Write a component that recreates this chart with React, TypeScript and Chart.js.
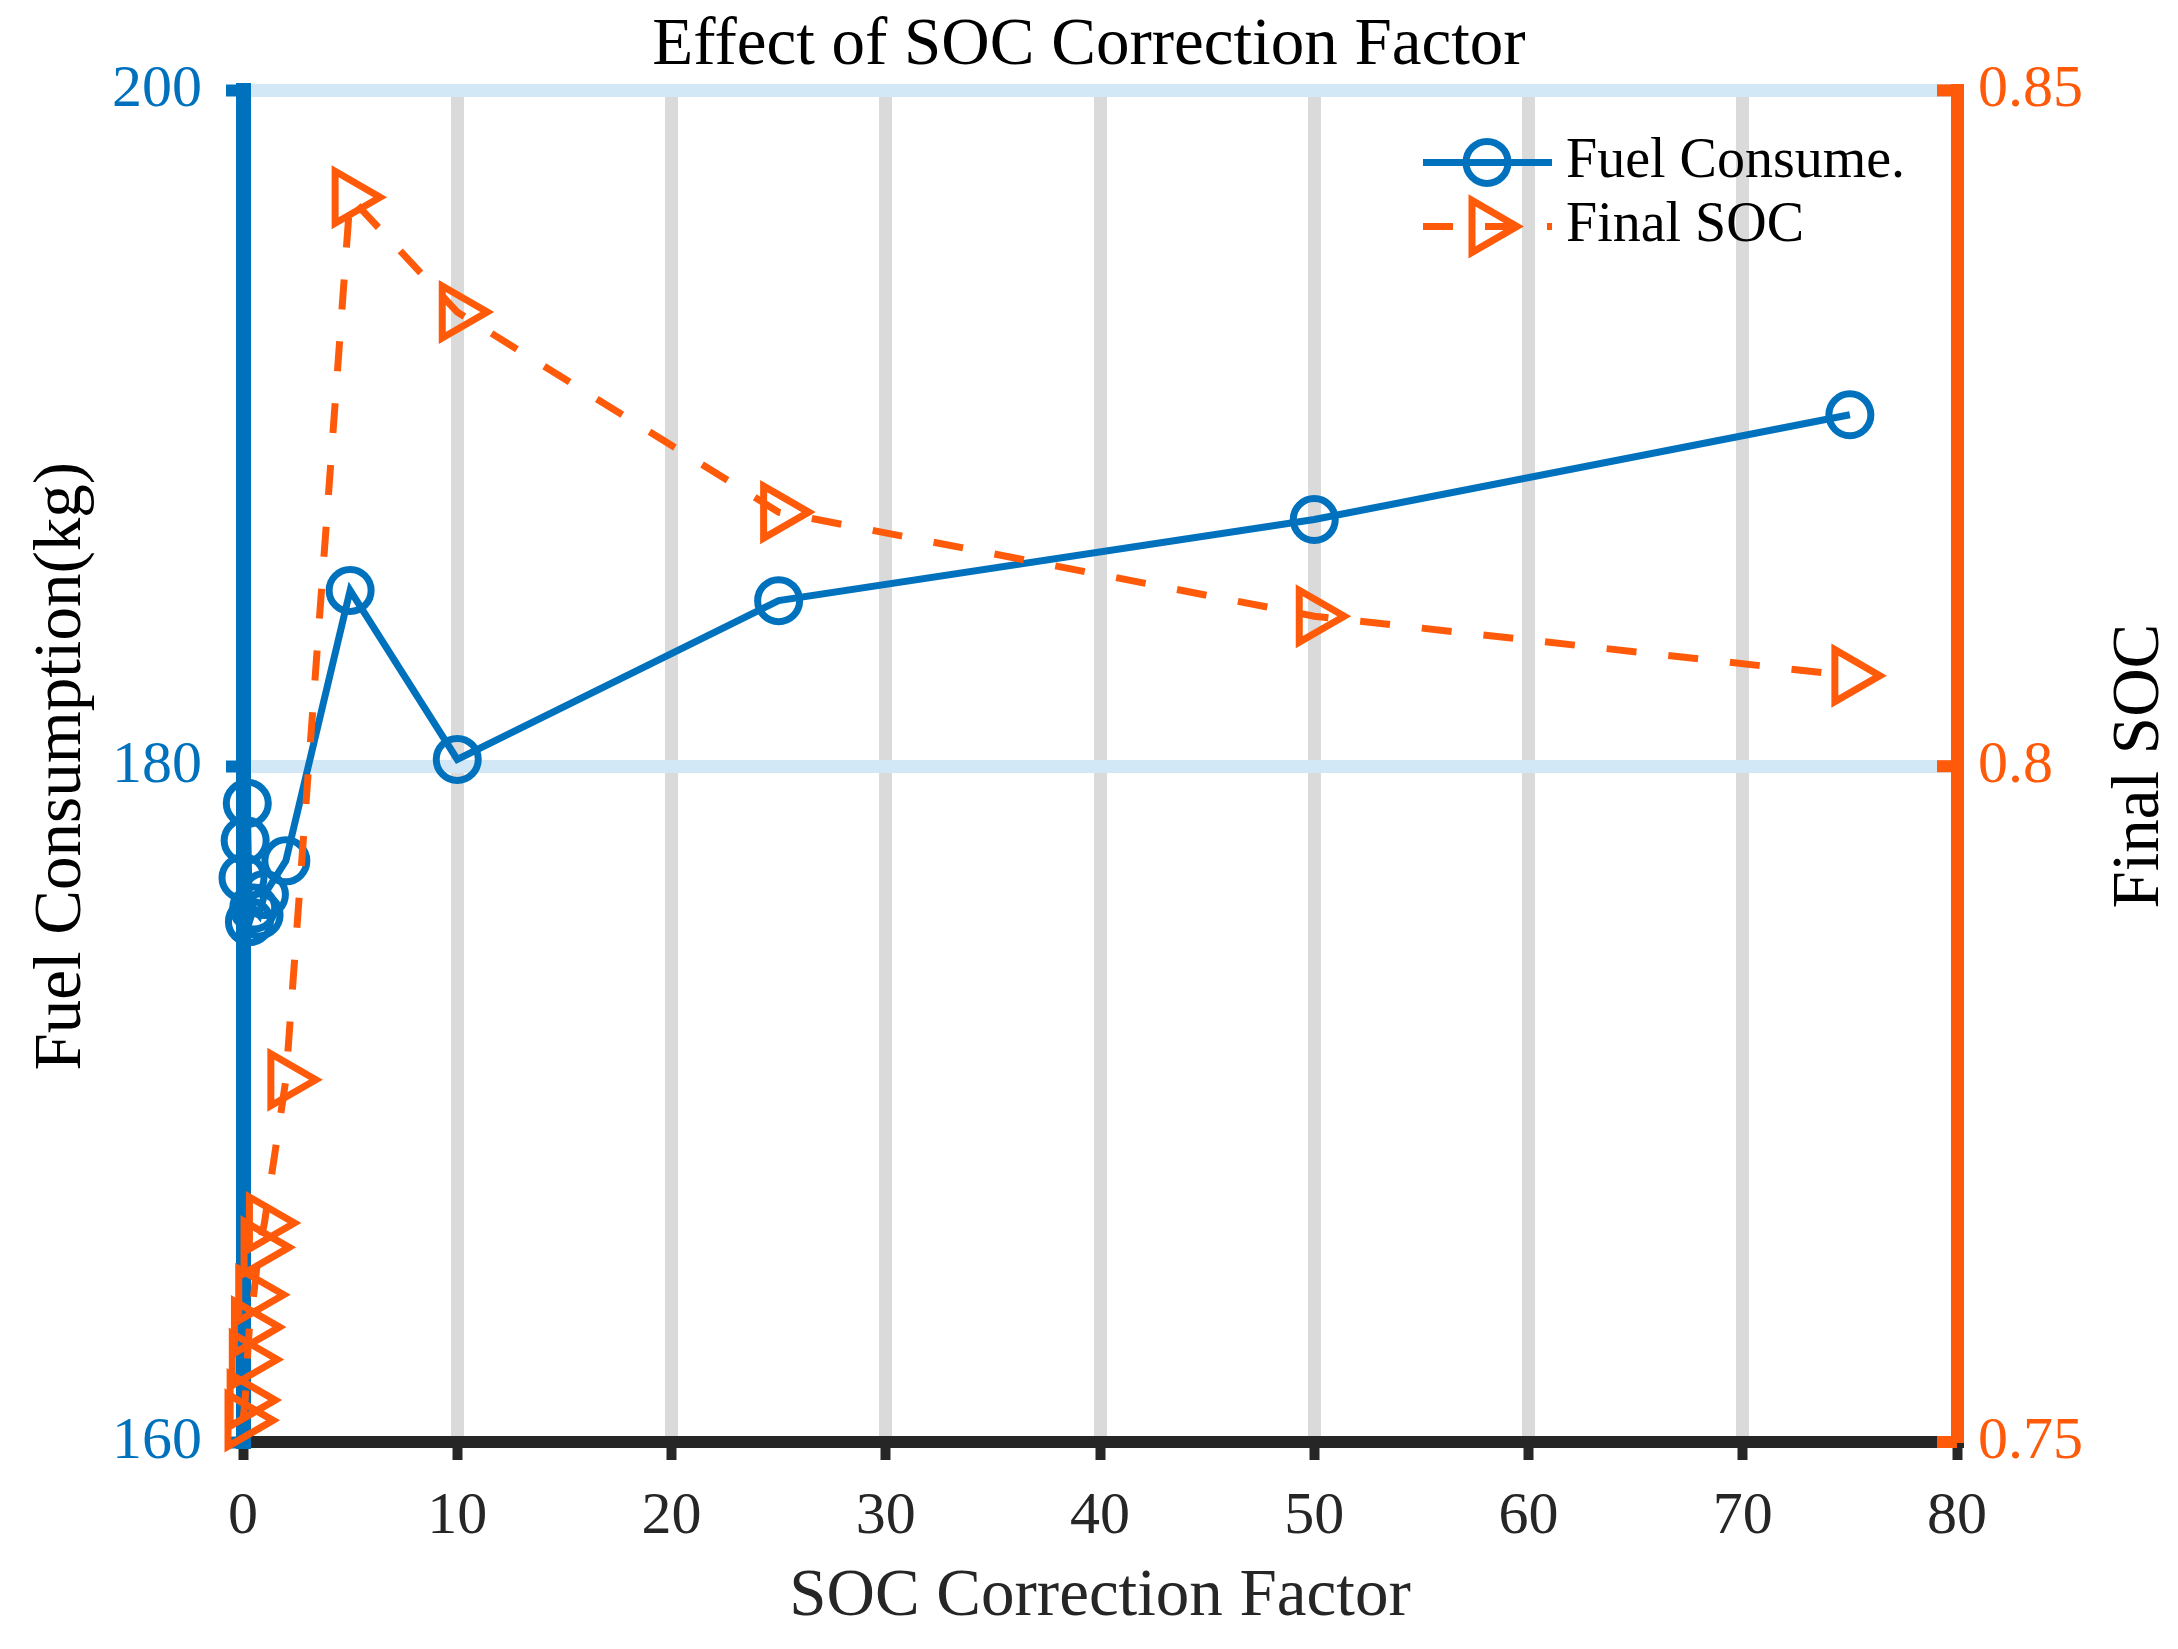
import { useEffect, useRef } from "react";
import { Chart, registerables } from "chart.js";

Chart.register(...registerables);

// SOC correction factor sweep
const factors = [0, 0.1, 0.2, 0.3, 0.5, 0.75, 1, 2, 5, 10, 25, 50, 75];
const fuelKg = [176.7, 177.8, 178.9, 175.4, 175.8, 175.6, 176.2, 177.2, 185.2, 180.2, 184.9, 187.3, 190.4];
const finalSoc = [0.7516, 0.7531, 0.7561, 0.7585, 0.7609, 0.7644, 0.7662, 0.7768, 0.8421, 0.8336, 0.8188, 0.8111, 0.8067];

const xTicks = [0, 10, 20, 30, 40, 50, 60, 70, 80];
const fuelTicks = [160, 180, 200];
const socTicks = [0.75, 0.8, 0.85];

const BLUE = "#0072BD";
const ORANGE = "#FF5A0A";
const INK = "#262626";
const SERIF = "'Liberation Serif', 'Times New Roman', serif";
const LW = 7;

// right axis ticks point inward, right title reads bottom-to-top, plus the legend
const extras = {
  id: "extras",
  afterDraw(chart: any) {
    const { ctx, chartArea: a, scales } = chart;
    const soc = scales.soc;
    ctx.save();
    ctx.strokeStyle = ORANGE;
    ctx.lineWidth = 12;
    socTicks.forEach((v) => {
      const y = soc.getPixelForValue(v);
      ctx.beginPath();
      ctx.moveTo(a.right - 20, y);
      ctx.lineTo(a.right, y);
      ctx.stroke();
    });

    ctx.save();
    ctx.translate(a.right + 183, (a.top + a.bottom) / 2);
    ctx.rotate(-Math.PI / 2);
    ctx.fillStyle = "#000";
    ctx.font = `67px ${SERIF}`;
    ctx.textAlign = "center";
    ctx.textBaseline = "middle";
    ctx.fillText("Final SOC", 0, 0);
    ctx.restore();

    // legend
    const x0 = a.right - 534;
    const x1 = x0 + 129;
    const mx = x0 + 64;
    const y1 = a.top + 72;
    const y2 = a.top + 136;

    ctx.lineWidth = LW;
    ctx.strokeStyle = BLUE;
    ctx.beginPath();
    ctx.moveTo(x0, y1);
    ctx.lineTo(x1, y1);
    ctx.stroke();
    ctx.beginPath();
    ctx.arc(mx, y1, 21, 0, Math.PI * 2);
    ctx.stroke();

    ctx.strokeStyle = ORANGE;
    ctx.setLineDash([30, 32]);
    ctx.beginPath();
    ctx.moveTo(x0, y2);
    ctx.lineTo(x1, y2);
    ctx.stroke();
    ctx.setLineDash([]);
    ctx.lineJoin = "miter";
    ctx.beginPath();
    ctx.moveTo(mx + 30, y2);
    ctx.lineTo(mx - 15, y2 + 26);
    ctx.lineTo(mx - 15, y2 - 26);
    ctx.closePath();
    ctx.stroke();

    ctx.fillStyle = "#000";
    ctx.font = `56px ${SERIF}`;
    ctx.textAlign = "left";
    ctx.textBaseline = "middle";
    ctx.fillText("Fuel Consume.", x1 + 14, y1);
    ctx.fillText("Final SOC", x1 + 14, y2);
    ctx.restore();
  },
};

export default function App() {
  const canvasRef = useRef<HTMLCanvasElement | null>(null);

  useEffect(() => {
    if (!canvasRef.current) return;
    const ctx = canvasRef.current.getContext("2d");
    if (!ctx) return;

    const chart = new Chart(ctx, {
      type: "line",
      data: {
        datasets: [
          {
            label: "Fuel Consume.",
            data: factors.map((x, i) => ({ x, y: fuelKg[i] })),
            yAxisID: "fuel",
            borderColor: BLUE,
            borderWidth: LW,
            pointStyle: "circle",
            pointRadius: 21,
            pointBorderWidth: LW,
            pointBorderColor: BLUE,
            pointBackgroundColor: "rgba(0,0,0,0)",
            tension: 0,
            clip: false,
            order: 1,
          },
          {
            label: "Final SOC",
            data: factors.map((x, i) => ({ x, y: finalSoc[i] })),
            yAxisID: "soc",
            borderColor: ORANGE,
            borderWidth: LW,
            borderDash: [30, 32],
            pointStyle: "triangle",
            pointRotation: 90,
            pointRadius: 30,
            pointBorderWidth: LW,
            pointBorderColor: ORANGE,
            pointBackgroundColor: "rgba(0,0,0,0)",
            tension: 0,
            clip: false,
            order: 0,
          },
        ],
      },
      options: {
        animation: false,
        responsive: false,
        events: [],
        layout: { padding: 0 },
        font: { family: SERIF },
        plugins: {
          legend: { display: false },
          tooltip: { enabled: false },
          title: {
            display: true,
            text: "Effect of SOC Correction Factor",
            color: "#000",
            font: { family: SERIF, size: 67, weight: "normal" },
            padding: { top: 6, bottom: 4 },
          },
        },
        scales: {
          x: {
            type: "linear",
            min: 0,
            max: 80,
            afterBuildTicks: (s: any) => {
              s.ticks = xTicks.map((value) => ({ value }));
            },
            afterFit: (s: any) => {
              s.height = 207;
            },
            grid: {
              color: (c: any) =>
                c.tick && (c.tick.value === 0 || c.tick.value === 80) ? "rgba(0,0,0,0)" : "#dadada",
              lineWidth: 13,
              tickColor: INK,
              tickWidth: 10,
              tickLength: 18,
            },
            border: { color: INK, width: 12 },
            ticks: {
              color: INK,
              padding: 21,
              maxRotation: 0,
              font: { family: SERIF, size: 60 },
              callback: (v: any) => String(v),
            },
            title: {
              display: true,
              text: "SOC Correction Factor",
              color: INK,
              font: { family: SERIF, size: 67 },
              padding: { top: 0, bottom: 11 },
            },
          },
          fuel: {
            type: "linear",
            position: "left",
            min: 160,
            max: 200,
            afterBuildTicks: (s: any) => {
              s.ticks = fuelTicks.map((value) => ({ value }));
            },
            afterFit: (s: any) => {
              s.width = 243;
            },
            grid: {
              color: (c: any) => (c.tick && c.tick.value === 160 ? "rgba(0,0,0,0)" : "#d3e8f6"),
              lineWidth: 13,
              tickColor: BLUE,
              tickWidth: 12,
              tickLength: 17,
            },
            border: { color: BLUE, width: 15 },
            ticks: {
              color: BLUE,
              padding: 24,
              font: { family: SERIF, size: 60 },
              callback: (v: any) => String(v),
            },
            title: {
              display: true,
              text: "Fuel Consumption(kg)",
              color: "#000",
              font: { family: SERIF, size: 67 },
              padding: { top: 22, bottom: 0 },
            },
          },
          soc: {
            type: "linear",
            position: "right",
            min: 0.75,
            max: 0.85,
            afterBuildTicks: (s: any) => {
              s.ticks = socTicks.map((value) => ({ value }));
            },
            afterFit: (s: any) => {
              s.width = 221;
            },
            grid: { drawOnChartArea: false, drawTicks: false },
            border: { color: ORANGE, width: 13 },
            ticks: {
              color: ORANGE,
              padding: 21,
              font: { family: SERIF, size: 60 },
              callback: (v: any) => String(v),
            },
          },
        },
      },
      plugins: [extras],
    });

    return () => {
      chart.destroy();
    };
  }, []);

  return (
    <div style={{ position: "fixed", top: 0, left: 0, width: 2178, height: 1649, background: "#fff" }}>
      <canvas ref={canvasRef} width={2178} height={1649} />
    </div>
  );
}
